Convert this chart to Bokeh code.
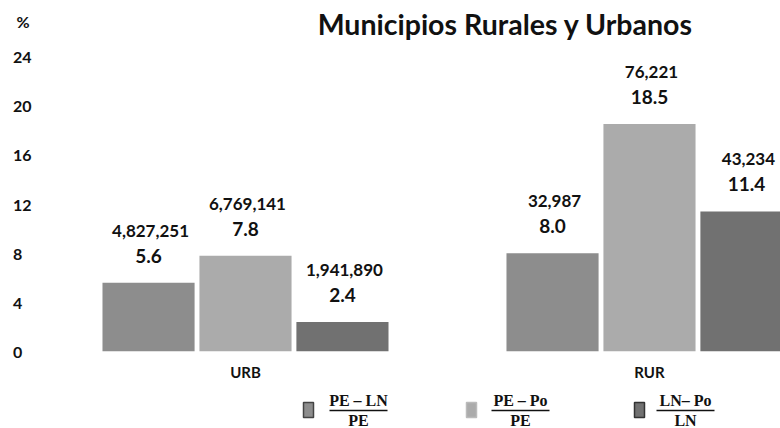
from bokeh.plotting import figure
from bokeh.models import ColumnDataSource, Range1d, FixedTicker, LabelSet
from bokeh.layouts import column
from bokeh.embed import file_html
from bokeh.resources import INLINE
from bokeh.core.properties import value

# ---------------- data ----------------
categories = ["URB", "RUR"]
pct_pe_ln = [5.6, 8.0]
pct_pe_po = [7.8, 18.5]
pct_ln_po = [2.4, 11.4]
cnt_pe_ln = [4827251, 32987]
cnt_pe_po = [6769141, 76221]
cnt_ln_po = [1941890, 43234]
legend_num = ["PE \u2013 LN", "PE \u2013 Po", "LN\u2013 Po"]
legend_den = ["PE", "PE", "LN"]
y_ticks = [0, 4, 8, 12, 16, 20, 24]
title_text = "Municipios Rurales y Urbanos"
unit_text = "%"

# ---------------- styles / layout ----------------
bar_colors = ["#8d8d8d", "#ababab", "#717171"]
swatch_lines = ["#444444", "#bbbbbb", "#333333"]
offsets = [-0.24, 0.0, 0.24]
bar_w = 0.228
FONT = "Lato"
W = 780
FRAME_L = 39          # left edge of the plotting frame (px)
ZERO_Y = 351          # pixel row of the value 0
PX_PER_UNIT = 295 / 24
Y_END = ZERO_Y / PX_PER_UNIT          # frame reaches the top of the page
UNIT_TICK = (ZERO_Y - 21) / PX_PER_UNIT   # where the "%" marker sits on the axis

# ---------------- main chart ----------------
p = figure(width=W, height=388, output_backend="svg", toolbar_location=None,
           x_range=Range1d(-0.5099, 1.3243), y_range=Range1d(0, Y_END),
           min_border_left=FRAME_L, min_border_right=0, min_border_top=0,
           min_border_bottom=37)
p.outline_line_color = None
p.grid.grid_line_color = None
# pixel-space ranges for the title text
p.extra_x_ranges = {"px": Range1d(FRAME_L, W)}
p.extra_y_ranges = {"py": Range1d(ZERO_Y, 0)}

series = [(pct_pe_ln, cnt_pe_ln), (pct_pe_po, cnt_pe_po), (pct_ln_po, cnt_ln_po)]
for (vals, cnts), off, col in zip(series, offsets, bar_colors):
    src = ColumnDataSource(dict(
        x=[i + off for i in range(len(categories))],
        top=vals,
        cnt=[f"{c:,}" for c in cnts],
        lab=[f"{v:.1f}" for v in vals],
    ))
    p.vbar(x="x", top="top", width=bar_w, source=src, fill_color=col, line_color=None)
    p.add_layout(LabelSet(x="x", y="top", text="cnt", source=src, y_offset=52, x_offset=2,
                          text_align="center", text_baseline="middle",
                          text_font=value(FONT), text_font_style="bold",
                          text_font_size="17px", text_color="#111111"))
    p.add_layout(LabelSet(x="x", y="top", text="lab", source=src, y_offset=27,
                          text_align="center", text_baseline="middle",
                          text_font=value(FONT), text_font_style="bold",
                          text_font_size="19px", text_color="#111111"))

p.text(x=[505], y=[23], text=[title_text], x_range_name="px", y_range_name="py",
       text_align="center", text_baseline="middle", text_font=value(FONT),
       text_font_style="bold", text_font_size="28.5px", text_color="#111111")

yt = y_ticks + [UNIT_TICK]
p.yaxis.ticker = FixedTicker(ticks=yt)
ov = {t: (f"{t}\u2007" if t < 10 else str(t)) for t in y_ticks}
ov[UNIT_TICK] = unit_text + "\u2009"
p.yaxis.major_label_overrides = ov
p.xaxis.ticker = FixedTicker(ticks=list(range(len(categories))))
p.xaxis.major_label_overrides = {i: c for i, c in enumerate(categories)}
for ax in (p.xaxis, p.yaxis):
    ax.axis_line_color = None
    ax.major_tick_line_color = None
    ax.minor_tick_line_color = None
    ax.major_tick_out = 0
    ax.major_tick_in = 0
    ax.major_label_text_font = FONT
    ax.major_label_text_font_style = "bold"
    ax.major_label_text_color = "#111111"
p.yaxis.major_label_text_font_size = "16px"
p.yaxis.major_label_standoff = 8
p.xaxis.major_label_text_font_size = "15px"
p.xaxis.major_label_standoff = 11

# ---------------- legend strip ----------------
lg = figure(width=W, height=40, output_backend="svg", toolbar_location=None,
            x_range=Range1d(FRAME_L, W), y_range=Range1d(428, 388),
            x_axis_location=None, y_axis_location=None,
            min_border_left=FRAME_L, min_border_right=0, min_border_top=0,
            min_border_bottom=0)
lg.outline_line_color = None
lg.grid.visible = False

sw_x = [308, 471, 639]
fr_x = [358, 520, 685]
lg.rect(x=sw_x, y=[409.5] * 3, width=10, height=15, fill_color=bar_colors,
        line_color=swatch_lines, line_width=1.5)
lg.text(x=fr_x, y=[400] * 3, text=legend_num, text_align="center", text_baseline="middle",
        text_font=value("Liberation Serif"), text_font_style="bold", text_font_size="16px",
        text_color="#111111")
lg.text(x=fr_x, y=[420] * 3, text=legend_den, text_align="center", text_baseline="middle",
        text_font=value("Liberation Serif"), text_font_style="bold", text_font_size="16px",
        text_color="#111111")
lg.segment(x0=[x - 29 for x in fr_x], y0=[410] * 3, x1=[x + 29 for x in fr_x], y1=[410] * 3,
           line_color="#111111", line_width=1.5)

layout = column(p, lg)
open("out.html", "w").write(file_html(layout, INLINE))
